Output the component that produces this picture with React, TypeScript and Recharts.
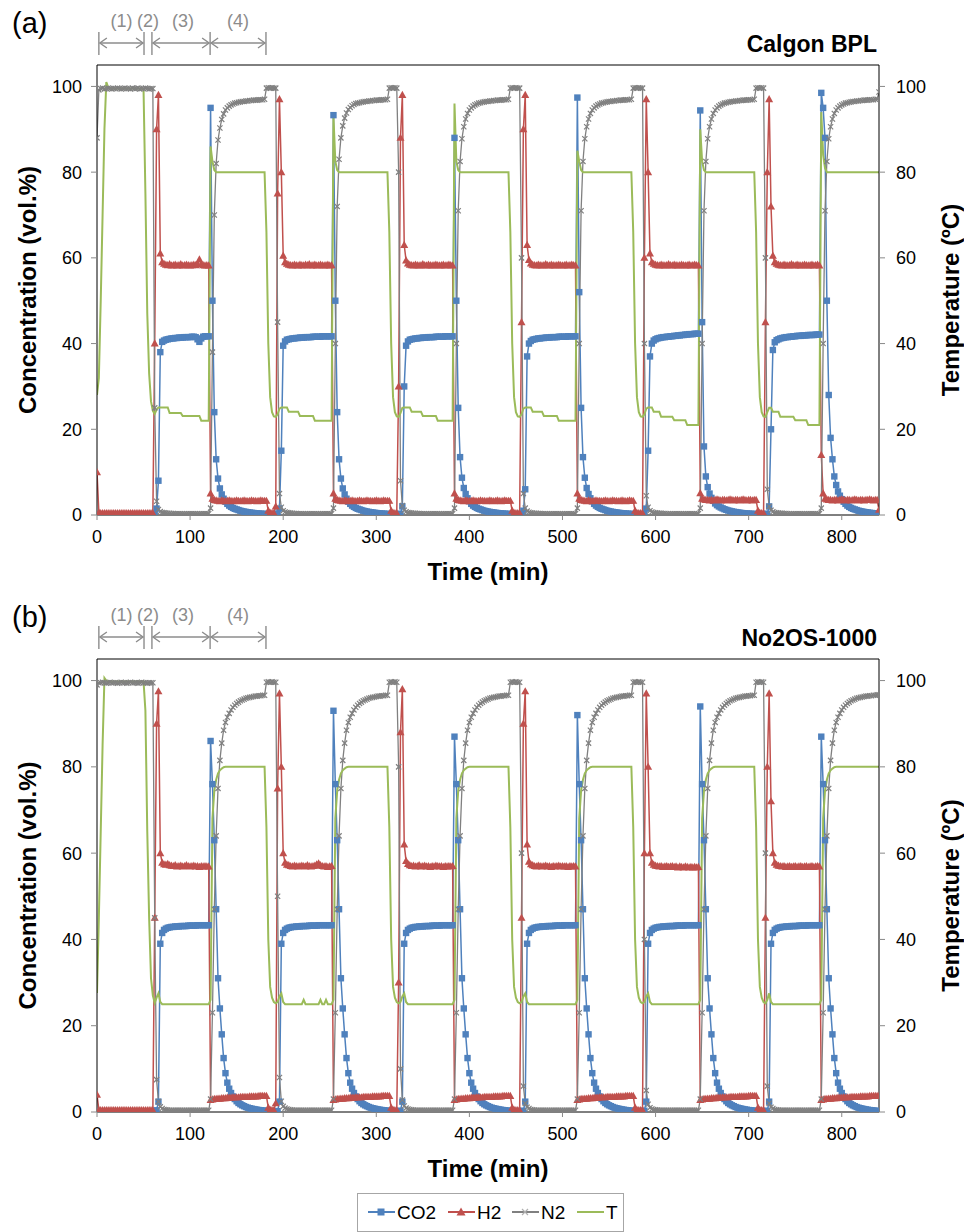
import React from 'react';
import { LineChart, Line, XAxis, YAxis, ReferenceLine } from 'recharts';

const FONT = '"Liberation Sans", Arial, sans-serif';
const BLUE = '#4F81BD';
const RED = '#C0504D';
const GREY = '#808080';
const GREEN = '#9BBB59';

// sampling times (min), one sample every 2 min
const TIME = [
  0, 2, 4, 6, 8, 10, 12, 14, 16, 18, 20, 22, 24, 26, 28, 30, 32, 34, 36, 38,
  40, 42, 44, 46, 48, 50, 52, 54, 56, 58, 60, 62, 64, 66, 68, 70, 72, 74, 76, 78,
  80, 82, 84, 86, 88, 90, 92, 94, 96, 98, 100, 102, 104, 106, 108, 110, 112, 114, 116, 118,
  120, 122, 124, 126, 128, 130, 132, 134, 136, 138, 140, 142, 144, 146, 148, 150, 152, 154, 156, 158,
  160, 162, 164, 166, 168, 170, 172, 174, 176, 178, 180, 182, 184, 186, 188, 190, 192, 194, 196, 198,
  200, 202, 204, 206, 208, 210, 212, 214, 216, 218, 220, 222, 224, 226, 228, 230, 232, 234, 236, 238,
  240, 242, 244, 246, 248, 250, 252, 254, 256, 258, 260, 262, 264, 266, 268, 270, 272, 274, 276, 278,
  280, 282, 284, 286, 288, 290, 292, 294, 296, 298, 300, 302, 304, 306, 308, 310, 312, 314, 316, 318,
  320, 322, 324, 326, 328, 330, 332, 334, 336, 338, 340, 342, 344, 346, 348, 350, 352, 354, 356, 358,
  360, 362, 364, 366, 368, 370, 372, 374, 376, 378, 380, 382, 384, 386, 388, 390, 392, 394, 396, 398,
  400, 402, 404, 406, 408, 410, 412, 414, 416, 418, 420, 422, 424, 426, 428, 430, 432, 434, 436, 438,
  440, 442, 444, 446, 448, 450, 452, 454, 456, 458, 460, 462, 464, 466, 468, 470, 472, 474, 476, 478,
  480, 482, 484, 486, 488, 490, 492, 494, 496, 498, 500, 502, 504, 506, 508, 510, 512, 514, 516, 518,
  520, 522, 524, 526, 528, 530, 532, 534, 536, 538, 540, 542, 544, 546, 548, 550, 552, 554, 556, 558,
  560, 562, 564, 566, 568, 570, 572, 574, 576, 578, 580, 582, 584, 586, 588, 590, 592, 594, 596, 598,
  600, 602, 604, 606, 608, 610, 612, 614, 616, 618, 620, 622, 624, 626, 628, 630, 632, 634, 636, 638,
  640, 642, 644, 646, 648, 650, 652, 654, 656, 658, 660, 662, 664, 666, 668, 670, 672, 674, 676, 678,
  680, 682, 684, 686, 688, 690, 692, 694, 696, 698, 700, 702, 704, 706, 708, 710, 712, 714, 716, 718,
  720, 722, 724, 726, 728, 730, 732, 734, 736, 738, 740, 742, 744, 746, 748, 750, 752, 754, 756, 758,
  760, 762, 764, 766, 768, 770, 772, 774, 776, 778, 780, 782, 784, 786, 788, 790, 792, 794, 796, 798,
  800, 802, 804, 806, 808, 810, 812, 814, 816, 818, 820, 822, 824, 826, 828, 830, 832, 834, 836, 838,
  840,
];

// ---- (a) Calgon BPL ----
const co2A = [
  0.2, 0.1, 0.1, 0.1, 0.1, 0.1, 0.1, 0.1, 0.1, 0.1,
  0.1, 0.1, 0.1, 0.1, 0.1, 0.1, 0.1, 0.1, 0.1, 0.1,
  0.1, 0.1, 0.1, 0.1, 0.1, 0.1, 0.1, 0.1, 0.1, 0.1,
  0.1, 0.2, 1.5, 8, 38, 40.4, 40.7, 40.9, 41.0, 41.1,
  41.2, 41.2, 41.3, 41.3, 41.4, 41.4, 41.4, 41.5, 41.5, 41.5,
  41.5, 41.6, 41.6, 41.5, 41.0, 40.4, 41.2, 41.6, 41.7, 41.7,
  41.7, 95, 50, 24, 13, 8.5, 6.2, 4.8, 3.8, 3.1,
  2.6, 2.2, 1.9, 1.65, 1.45, 1.3, 1.15, 1.0, 0.9, 0.8,
  0.72, 0.65, 0.58, 0.52, 0.47, 0.42, 0.38, 0.34, 0.3, 0.27,
  0.25, 0.22, 0.2, 0.2, 0.2, 0.2, 0.2, 0.3, 1.5, 15,
  39.5, 40.5, 40.9, 41.0, 41.1, 41.2, 41.2, 41.3, 41.3, 41.4,
  41.4, 41.4, 41.5, 41.5, 41.5, 41.5, 41.6, 41.6, 41.6, 41.6,
  41.6, 41.7, 41.7, 41.7, 41.7, 41.7, 41.7, 93.3, 50, 24,
  13, 8.5, 6.2, 4.8, 3.8, 3.1, 2.6, 2.2, 1.9, 1.65,
  1.45, 1.3, 1.15, 1.0, 0.9, 0.8, 0.72, 0.65, 0.58, 0.52,
  0.47, 0.42, 0.38, 0.34, 0.3, 0.27, 0.25, 0.22, 0.2, 0.2,
  0.2, 0.2, 0.2, 0.3, 2, 30, 39.5, 40.5, 40.9, 41.0,
  41.1, 41.2, 41.2, 41.3, 41.3, 41.4, 41.4, 41.4, 41.5, 41.5,
  41.5, 41.5, 41.6, 41.6, 41.6, 41.6, 41.6, 41.7, 41.7, 41.7,
  41.7, 41.7, 88, 50, 25, 13.5, 8.7, 6.3, 4.9, 3.9,
  3.2, 2.6, 2.2, 1.9, 1.65, 1.45, 1.3, 1.15, 1.0, 0.9,
  0.8, 0.72, 0.65, 0.58, 0.52, 0.47, 0.42, 0.38, 0.34, 0.3,
  0.27, 0.25, 0.22, 0.2, 0.2, 0.2, 0.2, 0.2, 0.2, 1.0,
  6, 37, 40, 40.6, 40.9, 41.0, 41.1, 41.2, 41.2, 41.3,
  41.3, 41.4, 41.4, 41.4, 41.5, 41.5, 41.5, 41.5, 41.6, 41.6,
  41.6, 41.6, 41.6, 41.7, 41.7, 41.7, 41.7, 41.7, 97.4, 52,
  25, 13.5, 8.7, 6.3, 4.9, 3.9, 3.2, 2.6, 2.2, 1.9,
  1.65, 1.45, 1.3, 1.15, 1.0, 0.9, 0.8, 0.72, 0.65, 0.58,
  0.52, 0.47, 0.42, 0.38, 0.34, 0.3, 0.27, 0.25, 0.22, 0.2,
  0.2, 0.2, 0.2, 0.2, 0.2, 1.5, 15, 37, 40, 40.7,
  41.0, 41.2, 41.3, 41.4, 41.5, 41.5, 41.6, 41.6, 41.7, 41.7,
  41.8, 41.8, 41.9, 41.9, 42.0, 42.0, 42.1, 42.1, 42.2, 42.2,
  42.2, 42.3, 42.3, 42.3, 94.4, 45, 16, 9, 6.5, 5,
  4.0, 3.3, 2.7, 2.3, 2.0, 1.75, 1.55, 1.35, 1.2, 1.05,
  0.95, 0.85, 0.75, 0.68, 0.6, 0.54, 0.48, 0.43, 0.39, 0.35,
  0.32, 0.29, 0.26, 0.24, 0.22, 0.2, 0.2, 0.2, 0.2, 0.2,
  0.3, 2, 20, 38.5, 40.3, 40.8, 41.0, 41.2, 41.3, 41.4,
  41.5, 41.5, 41.6, 41.6, 41.7, 41.7, 41.8, 41.8, 41.8, 41.9,
  41.9, 41.9, 42.0, 42.0, 42.0, 42.0, 42.1, 42.1, 42.1, 98.5,
  95, 88, 50, 28, 18, 13, 9, 7, 5.5, 4.5,
  3.7, 3.1, 2.6, 2.2, 1.9, 1.65, 1.45, 1.3, 1.15, 1.0,
  0.9, 0.8, 0.72, 0.65, 0.58, 0.52, 0.47, 0.42, 0.38, 0.34,
  0.3,
];

const h2A = [
  10, 0.6, 0.4, 0.4, 0.4, 0.4, 0.4, 0.4, 0.4, 0.4,
  0.4, 0.4, 0.4, 0.4, 0.4, 0.4, 0.4, 0.4, 0.4, 0.4,
  0.4, 0.4, 0.4, 0.4, 0.4, 0.4, 0.4, 0.4, 0.4, 0.4,
  0.4, 40, 90, 98, 61, 59, 58.6, 58.4, 58.3, 58.5,
  58.2, 58.3, 58.4, 58.2, 58.3, 58.5, 58.2, 58.3, 58.4, 58.3,
  58.2, 58.3, 58.4, 58.3, 58.6, 59.6, 58.5, 58.3, 58.2, 58.3,
  58.2, 5.0, 3.8, 3.5, 3.4, 3.3, 3.2, 3.4, 3.3, 3.2,
  3.3, 3.4, 3.3, 3.2, 3.3, 3.4, 3.3, 3.2, 3.3, 3.4,
  3.3, 3.2, 3.3, 3.4, 3.3, 3.3, 3.2, 3.3, 3.4, 3.3,
  3.3, 3.3, 1.0, 0.5, 0.4, 0.4, 2, 75, 97, 80,
  60.5, 59, 58.6, 58.4, 58.3, 58.2, 58.4, 58.3, 58.2, 58.4,
  58.3, 58.2, 58.4, 58.3, 58.5, 58.2, 58.3, 58.4, 58.2, 58.3,
  58.4, 58.3, 58.2, 58.3, 58.4, 58.2, 58.3, 5.0, 3.8, 3.5,
  3.4, 3.3, 3.2, 3.4, 3.3, 3.2, 3.3, 3.4, 3.3, 3.2,
  3.3, 3.4, 3.3, 3.2, 3.3, 3.4, 3.3, 3.3, 3.2, 3.3,
  3.4, 3.3, 3.2, 3.3, 3.4, 3.3, 3.3, 3.3, 1.0, 0.5,
  0.4, 0.4, 30, 88, 98, 63, 59.4, 58.7, 58.4, 58.3,
  58.2, 58.4, 58.3, 58.2, 58.3, 58.5, 58.3, 58.2, 58.4, 58.3,
  58.2, 58.3, 58.4, 58.3, 58.2, 58.3, 58.4, 58.2, 58.3, 58.4,
  58.3, 58.2, 5.0, 3.8, 3.5, 3.4, 3.3, 3.2, 3.4, 3.3,
  3.2, 3.3, 3.4, 3.3, 3.2, 3.3, 3.4, 3.3, 3.3, 3.2,
  3.3, 3.4, 3.3, 3.2, 3.3, 3.4, 3.3, 3.2, 3.3, 3.4,
  3.3, 3.3, 3.3, 1.0, 0.5, 0.4, 0.4, 0.4, 45, 90,
  98, 63, 59.5, 58.7, 58.4, 58.3, 58.2, 58.4, 58.3, 58.2,
  58.3, 58.5, 58.3, 58.2, 58.4, 58.3, 58.2, 58.3, 58.4, 58.3,
  58.2, 58.3, 58.4, 58.2, 58.3, 58.4, 58.3, 58.2, 5.0, 3.8,
  3.5, 3.4, 3.3, 3.2, 3.4, 3.3, 3.2, 3.3, 3.4, 3.3,
  3.3, 3.2, 3.3, 3.4, 3.3, 3.2, 3.3, 3.4, 3.3, 3.3,
  3.2, 3.3, 3.4, 3.3, 3.2, 3.3, 3.4, 3.3, 3.3, 1.0,
  0.5, 0.4, 0.4, 0.4, 60, 97, 80, 61, 59, 58.6,
  58.4, 58.3, 58.2, 58.4, 58.3, 58.2, 58.3, 58.5, 58.3, 58.2,
  58.4, 58.3, 58.2, 58.3, 58.4, 58.3, 58.2, 58.3, 58.4, 58.2,
  58.3, 58.4, 58.3, 58.2, 5.1, 3.8, 3.6, 3.5, 3.5, 3.4,
  3.5, 3.4, 3.5, 3.6, 3.5, 3.4, 3.5, 3.5, 3.4, 3.5,
  3.6, 3.5, 3.4, 3.5, 3.5, 3.4, 3.5, 3.6, 3.5, 3.4,
  3.5, 3.5, 3.4, 3.5, 3.5, 1.0, 0.5, 0.4, 0.4, 45,
  80, 97, 72, 60.5, 59, 58.6, 58.4, 58.3, 58.2, 58.4,
  58.3, 58.2, 58.3, 58.5, 58.3, 58.2, 58.4, 58.3, 58.2, 58.3,
  58.4, 58.3, 58.2, 58.3, 58.4, 58.2, 58.3, 58.4, 58.2, 14,
  5.0, 3.8, 3.6, 3.5, 3.5, 3.4, 3.5, 3.5, 3.4, 3.5,
  3.6, 3.5, 3.4, 3.5, 3.5, 3.4, 3.5, 3.6, 3.5, 3.4,
  3.5, 3.5, 3.4, 3.5, 3.5, 3.6, 3.5, 3.4, 3.5, 3.5,
  1.2,
];

const n2A = [
  88, 99.2, 99.5, 99.6, 99.4, 99.5, 99.6, 99.5, 99.4, 99.5,
  99.5, 99.6, 99.5, 99.4, 99.5, 99.6, 99.5, 99.5, 99.4, 99.6,
  99.5, 99.5, 99.6, 99.4, 99.5, 99.5, 99.6, 99.5, 99.4, 99.5,
  99.5, 25, 3.2, 1.3, 0.8, 0.6, 0.5, 0.45, 0.4, 0.4,
  0.35, 0.35, 0.3, 0.3, 0.3, 0.3, 0.3, 0.3, 0.3, 0.3,
  0.3, 0.3, 0.3, 0.3, 0.3, 0.3, 0.3, 0.3, 0.3, 0.3,
  0.3, 1.6, 38, 70, 82, 87.5, 90.3, 92.3, 93.6, 94.5,
  95.0, 95.4, 95.7, 95.9, 96.1, 96.2, 96.3, 96.4, 96.5, 96.5,
  96.6, 96.6, 96.7, 96.7, 96.8, 96.8, 96.8, 96.9, 96.9, 96.9,
  97.0, 99.6, 99.7, 99.6, 99.7, 99.6, 99.6, 45, 5, 1.8,
  1.0, 0.7, 0.55, 0.5, 0.45, 0.4, 0.35, 0.35, 0.3, 0.3,
  0.3, 0.3, 0.3, 0.3, 0.3, 0.3, 0.3, 0.3, 0.3, 0.3,
  0.3, 0.3, 0.3, 0.3, 0.3, 0.3, 0.3, 1.6, 40, 72,
  83, 88, 90.8, 92.6, 93.8, 94.6, 95.1, 95.5, 95.8, 96.0,
  96.1, 96.2, 96.3, 96.4, 96.5, 96.5, 96.6, 96.6, 96.7, 96.7,
  96.8, 96.8, 96.8, 96.9, 96.9, 96.9, 97.0, 99.6, 99.7, 99.6,
  99.7, 99.6, 80, 8, 2.2, 1.1, 0.75, 0.55, 0.5, 0.45,
  0.4, 0.4, 0.35, 0.35, 0.3, 0.3, 0.3, 0.3, 0.3, 0.3,
  0.3, 0.3, 0.3, 0.3, 0.3, 0.3, 0.3, 0.3, 0.3, 0.3,
  0.3, 0.3, 1.6, 40, 71, 82.5, 87.8, 90.6, 92.4, 93.7,
  94.5, 95.0, 95.4, 95.7, 95.9, 96.1, 96.2, 96.3, 96.4, 96.5,
  96.5, 96.6, 96.6, 96.7, 96.7, 96.8, 96.8, 96.8, 96.9, 96.9,
  96.9, 97.0, 99.6, 99.7, 99.6, 99.7, 99.6, 99.6, 60, 5,
  1.6, 0.9, 0.65, 0.5, 0.45, 0.4, 0.4, 0.35, 0.35, 0.3,
  0.3, 0.3, 0.3, 0.3, 0.3, 0.3, 0.3, 0.3, 0.3, 0.3,
  0.3, 0.3, 0.3, 0.3, 0.3, 0.3, 0.3, 0.3, 1.6, 40,
  71, 82.5, 87.8, 90.6, 92.4, 93.7, 94.5, 95.0, 95.4, 95.7,
  95.9, 96.1, 96.2, 96.3, 96.4, 96.5, 96.5, 96.6, 96.6, 96.7,
  96.7, 96.8, 96.8, 96.8, 96.9, 96.9, 96.9, 97.0, 99.6, 99.7,
  99.6, 99.7, 99.6, 99.6, 40, 4.5, 1.8, 1.0, 0.7, 0.55,
  0.5, 0.45, 0.4, 0.4, 0.35, 0.35, 0.3, 0.3, 0.3, 0.3,
  0.3, 0.3, 0.3, 0.3, 0.3, 0.3, 0.3, 0.3, 0.3, 0.3,
  0.3, 0.3, 0.3, 0.3, 1.6, 40, 71, 82.5, 87.8, 90.6,
  92.4, 93.7, 94.5, 95.0, 95.4, 95.7, 95.9, 96.1, 96.2, 96.3,
  96.4, 96.5, 96.5, 96.6, 96.6, 96.7, 96.7, 96.8, 96.8, 96.8,
  96.9, 96.9, 96.9, 97.0, 99.6, 99.7, 99.6, 99.7, 99.6, 60,
  6, 2, 1.1, 0.75, 0.55, 0.5, 0.45, 0.4, 0.4, 0.35,
  0.35, 0.3, 0.3, 0.3, 0.3, 0.3, 0.3, 0.3, 0.3, 0.3,
  0.3, 0.3, 0.3, 0.3, 0.3, 0.3, 0.3, 0.3, 0.3, 1.6,
  40, 71, 82.5, 87.8, 90.6, 92.4, 93.7, 94.5, 95.0, 95.4,
  95.7, 95.9, 96.1, 96.2, 96.3, 96.4, 96.5, 96.5, 96.6, 96.6,
  96.7, 96.7, 96.8, 96.8, 96.8, 96.9, 96.9, 96.9, 97.0, 97.0,
  98.7,
];

const tempA = [
  28, 32, 50, 70, 90, 101, 99.8, 99.5, 99.5, 99.5,
  99.5, 99.5, 99.5, 99.5, 99.5, 99.5, 99.5, 99.5, 99.5, 99.5,
  99.5, 99.5, 99.5, 99.5, 99.5, 99.2, 75, 47, 33, 26.5,
  24.3, 23.6, 24.6, 25.1, 25.1, 25.1, 25.1, 25.1, 25.1, 23.8,
  23.8, 23.8, 23.8, 23.8, 23.8, 23.8, 23.1, 23.1, 23.1, 23.1,
  23.1, 23.1, 23.1, 23.1, 23.1, 23.1, 22.0, 22.0, 22.0, 22.0,
  22.0, 86, 82.5, 80.5, 80, 80, 80, 80, 80, 80,
  80, 80, 80, 80, 80, 80, 80, 80, 80, 80,
  80, 80, 80, 80, 80, 80, 80, 80, 80, 80,
  80, 66, 40, 27.5, 24, 23, 22.9, 23.5, 24.8, 25.1,
  25.1, 25.1, 25.1, 24.1, 24.1, 24.1, 24.1, 24.1, 24.1, 23.1,
  23.1, 23.1, 23.1, 23.1, 23.1, 23.1, 23.1, 22.0, 22.0, 22.0,
  22.0, 22.0, 22.0, 22.0, 22.0, 22.0, 22.0, 93, 82.5, 80.5,
  80, 80, 80, 80, 80, 80, 80, 80, 80, 80,
  80, 80, 80, 80, 80, 80, 80, 80, 80, 80,
  80, 80, 80, 80, 80, 80, 80, 66, 40, 27.5,
  24, 23, 22.9, 23.8, 25.0, 25.1, 25.1, 25.1, 25.1, 24.1,
  24.1, 24.1, 24.1, 24.1, 24.1, 23.1, 23.1, 23.1, 23.1, 23.1,
  23.1, 23.1, 23.1, 22.0, 22.0, 22.0, 22.0, 22.0, 22.0, 22.0,
  22.0, 22.0, 96, 82.5, 80.5, 80, 80, 80, 80, 80,
  80, 80, 80, 80, 80, 80, 80, 80, 80, 80,
  80, 80, 80, 80, 80, 80, 80, 80, 80, 80,
  80, 80, 66, 40, 27.5, 24, 23, 22.9, 23.5, 24.8,
  25.1, 25.1, 25.1, 25.1, 24.1, 24.1, 24.1, 24.1, 24.1, 24.1,
  23.1, 23.1, 23.1, 23.1, 23.1, 23.1, 23.1, 23.1, 22.0, 22.0,
  22.0, 22.0, 22.0, 22.0, 22.0, 22.0, 22.0, 22.0, 85, 82.5,
  80.5, 80, 80, 80, 80, 80, 80, 80, 80, 80,
  80, 80, 80, 80, 80, 80, 80, 80, 80, 80,
  80, 80, 80, 80, 80, 80, 80, 80, 66, 40,
  27.5, 24, 23, 22.9, 23.5, 24.8, 25.1, 25.1, 25.1, 24.1,
  24.1, 24.1, 24.1, 22.9, 22.9, 22.9, 22.9, 22.9, 22.9, 22.9,
  22.1, 22.1, 22.1, 22.1, 22.1, 22.1, 22.1, 21.0, 21.0, 21.0,
  21.0, 21.0, 21.0, 21.0, 90, 82.5, 80.5, 80, 80, 80,
  80, 80, 80, 80, 80, 80, 80, 80, 80, 80,
  80, 80, 80, 80, 80, 80, 80, 80, 80, 80,
  80, 80, 80, 80, 66, 40, 27.5, 24, 23, 22.9,
  24.0, 25.0, 25.0, 24.1, 24.1, 24.1, 24.1, 22.9, 22.9, 22.9,
  22.9, 22.9, 22.9, 22.9, 22.9, 22.1, 22.1, 22.1, 22.1, 22.1,
  22.1, 22.1, 21.0, 21.0, 21.0, 21.0, 21.0, 21.0, 21.0, 94,
  84, 81, 80, 80, 80, 80, 80, 80, 80, 80,
  80, 80, 80, 80, 80, 80, 80, 80, 80, 80,
  80, 80, 80, 80, 80, 80, 80, 80, 80, 80,
  80,
];

// ---- (b) No2OS-1000 ----
const co2B = [
  0.1, 0.1, 0.1, 0.1, 0.1, 0.1, 0.1, 0.1, 0.1, 0.1,
  0.1, 0.1, 0.1, 0.1, 0.1, 0.1, 0.1, 0.1, 0.1, 0.1,
  0.1, 0.1, 0.1, 0.1, 0.1, 0.1, 0.1, 0.1, 0.1, 0.1,
  0.1, 0.1, 0.4, 2.4, 39, 41.5, 42.2, 42.5, 42.7, 42.8,
  42.9, 42.9, 43.0, 43.0, 43.0, 43.1, 43.1, 43.1, 43.1, 43.2,
  43.2, 43.2, 43.2, 43.2, 43.3, 43.3, 43.3, 43.3, 43.3, 43.3,
  43.3, 86, 76, 63, 47, 31, 24, 18, 12.5, 9,
  6.8, 5.4, 4.4, 3.6, 3.0, 2.5, 2.1, 1.8, 1.55, 1.35,
  1.15, 1.0, 0.88, 0.78, 0.68, 0.6, 0.52, 0.45, 0.4, 0.35,
  0.3, 0.25, 0.2, 0.2, 0.2, 0.2, 0.2, 0.2, 2.4, 39,
  41.5, 42.2, 42.5, 42.7, 42.8, 42.9, 42.9, 43.0, 43.0, 43.0,
  43.1, 43.1, 43.1, 43.1, 43.2, 43.2, 43.2, 43.2, 43.2, 43.3,
  43.3, 43.3, 43.3, 43.3, 43.3, 43.3, 43.3, 93, 76, 63,
  47, 31, 24, 18, 12.5, 9, 6.8, 5.4, 4.4, 3.6,
  3.0, 2.5, 2.1, 1.8, 1.55, 1.35, 1.15, 1.0, 0.88, 0.78,
  0.68, 0.6, 0.52, 0.45, 0.4, 0.35, 0.3, 0.25, 0.2, 0.2,
  0.2, 0.2, 0.2, 0.3, 2.4, 39, 41.5, 42.2, 42.5, 42.7,
  42.8, 42.9, 42.9, 43.0, 43.0, 43.0, 43.1, 43.1, 43.1, 43.1,
  43.2, 43.2, 43.2, 43.2, 43.2, 43.3, 43.3, 43.3, 43.3, 43.3,
  43.3, 43.3, 87, 76, 63, 47, 31, 24, 18, 12.5,
  9, 6.8, 5.4, 4.4, 3.6, 3.0, 2.5, 2.1, 1.8, 1.55,
  1.35, 1.15, 1.0, 0.88, 0.78, 0.68, 0.6, 0.52, 0.45, 0.4,
  0.35, 0.3, 0.25, 0.2, 0.2, 0.2, 0.2, 0.2, 0.2, 0.3,
  2.4, 39, 41.5, 42.2, 42.5, 42.7, 42.8, 42.9, 42.9, 43.0,
  43.0, 43.0, 43.1, 43.1, 43.1, 43.1, 43.2, 43.2, 43.2, 43.2,
  43.2, 43.3, 43.3, 43.3, 43.3, 43.3, 43.3, 43.3, 92, 76,
  63, 47, 31, 24, 18, 12.5, 9, 6.8, 5.4, 4.4,
  3.6, 3.0, 2.5, 2.1, 1.8, 1.55, 1.35, 1.15, 1.0, 0.88,
  0.78, 0.68, 0.6, 0.52, 0.45, 0.4, 0.35, 0.3, 0.25, 0.2,
  0.2, 0.2, 0.2, 0.2, 0.3, 2.4, 39, 41.5, 42.2, 42.5,
  42.7, 42.8, 42.9, 42.9, 43.0, 43.0, 43.0, 43.1, 43.1, 43.1,
  43.1, 43.2, 43.2, 43.2, 43.2, 43.2, 43.3, 43.3, 43.3, 43.3,
  43.3, 43.3, 43.3, 43.3, 94, 76, 63, 47, 31, 24,
  18, 12.5, 9, 6.8, 5.4, 4.4, 3.6, 3.0, 2.5, 2.1,
  1.8, 1.55, 1.35, 1.15, 1.0, 0.88, 0.78, 0.68, 0.6, 0.52,
  0.45, 0.4, 0.35, 0.3, 0.25, 0.2, 0.2, 0.2, 0.2, 0.2,
  0.3, 2.4, 39, 41.5, 42.2, 42.5, 42.7, 42.8, 42.9, 42.9,
  43.0, 43.0, 43.0, 43.1, 43.1, 43.1, 43.1, 43.2, 43.2, 43.2,
  43.2, 43.2, 43.3, 43.3, 43.3, 43.3, 43.3, 43.3, 43.3, 87,
  76, 63, 47, 31, 24, 18, 12.5, 9, 6.8, 5.4,
  4.4, 3.6, 3.0, 2.5, 2.1, 1.8, 1.55, 1.35, 1.15, 1.0,
  0.88, 0.78, 0.68, 0.6, 0.52, 0.45, 0.4, 0.35, 0.3, 0.25,
  0.2,
];

const h2B = [
  4, 0.5, 0.4, 0.4, 0.4, 0.4, 0.4, 0.4, 0.4, 0.4,
  0.4, 0.4, 0.4, 0.4, 0.4, 0.4, 0.4, 0.4, 0.4, 0.4,
  0.4, 0.4, 0.4, 0.4, 0.4, 0.4, 0.4, 0.4, 0.4, 0.4,
  0.4, 45, 90, 97.5, 60, 57.8, 57.4, 57.3, 57.5, 57.2,
  57.1, 57.0, 57.2, 56.9, 57.0, 57.1, 56.9, 57.0, 57.2, 57.0,
  56.9, 57.0, 57.1, 56.9, 57.0, 56.8, 57.0, 56.9, 57.0, 56.9,
  56.9, 2.8, 2.9, 3.0, 3.0, 3.1, 3.1, 3.2, 3.2, 3.2,
  3.3, 3.3, 3.3, 3.4, 3.4, 3.4, 3.4, 3.5, 3.5, 3.5,
  3.5, 3.5, 3.6, 3.6, 3.6, 3.6, 3.6, 3.7, 3.7, 3.7,
  3.7, 3.7, 1.0, 0.5, 0.4, 0.4, 2, 75, 97, 80,
  60, 57.8, 57.3, 57.2, 57.0, 56.9, 57.1, 57.0, 56.9, 57.0,
  57.1, 57.0, 56.9, 57.2, 57.0, 56.9, 57.0, 57.1, 57.4, 57.6,
  57.2, 57.0, 56.9, 57.0, 56.8, 56.9, 57.0, 2.8, 2.9, 3.0,
  3.0, 3.1, 3.1, 3.2, 3.2, 3.2, 3.3, 3.3, 3.3, 3.4,
  3.4, 3.4, 3.4, 3.5, 3.5, 3.5, 3.5, 3.5, 3.6, 3.6,
  3.6, 3.6, 3.6, 3.7, 3.7, 3.7, 3.7, 3.7, 1.0, 0.5,
  0.4, 0.4, 30, 88, 98, 62, 58.2, 57.5, 57.2, 57.0,
  57.1, 56.9, 57.0, 57.2, 56.9, 57.0, 57.1, 56.9, 57.0, 56.8,
  57.0, 56.9, 57.1, 57.0, 56.9, 57.0, 56.8, 57.0, 56.9, 57.0,
  56.9, 57.0, 2.8, 2.9, 3.0, 3.0, 3.1, 3.1, 3.2, 3.2,
  3.2, 3.3, 3.3, 3.3, 3.4, 3.4, 3.4, 3.4, 3.5, 3.5,
  3.5, 3.5, 3.5, 3.6, 3.6, 3.6, 3.6, 3.6, 3.7, 3.7,
  3.7, 3.7, 3.7, 1.0, 0.5, 0.4, 0.4, 0.4, 45, 90,
  97.5, 62, 58, 57.4, 57.2, 57.0, 56.9, 57.1, 57.0, 56.9,
  57.0, 57.1, 56.9, 57.0, 56.8, 57.0, 56.9, 57.0, 57.1, 56.9,
  57.0, 56.9, 57.0, 56.8, 57.0, 56.9, 57.0, 56.9, 2.8, 2.9,
  3.0, 3.0, 3.1, 3.1, 3.2, 3.2, 3.2, 3.3, 3.3, 3.3,
  3.4, 3.4, 3.4, 3.4, 3.5, 3.5, 3.5, 3.5, 3.5, 3.6,
  3.6, 3.6, 3.6, 3.6, 3.7, 3.7, 3.7, 3.7, 3.7, 1.0,
  0.5, 0.4, 0.4, 0.4, 60, 97, 80, 60, 57.8, 57.3,
  57.1, 57.0, 56.9, 57.0, 56.8, 56.9, 57.0, 56.8, 56.9, 57.0,
  56.8, 56.9, 56.7, 56.9, 56.8, 56.7, 56.9, 56.8, 56.7, 56.8,
  56.7, 56.8, 56.7, 56.8, 2.8, 2.9, 3.0, 3.0, 3.1, 3.1,
  3.2, 3.2, 3.2, 3.3, 3.3, 3.3, 3.4, 3.4, 3.4, 3.4,
  3.5, 3.5, 3.5, 3.5, 3.5, 3.6, 3.6, 3.6, 3.6, 3.6,
  3.7, 3.7, 3.7, 3.7, 3.7, 1.0, 0.5, 0.4, 0.4, 45,
  80, 97, 72, 60, 57.8, 57.3, 57.1, 57.0, 56.9, 57.0,
  56.8, 56.9, 57.0, 56.8, 56.9, 57.0, 56.8, 56.9, 57.0, 56.8,
  56.9, 57.0, 56.8, 56.9, 57.0, 56.8, 56.9, 57.0, 56.9, 2.8,
  2.9, 3.0, 3.0, 3.1, 3.1, 3.2, 3.2, 3.2, 3.3, 3.3,
  3.3, 3.4, 3.4, 3.4, 3.4, 3.5, 3.5, 3.5, 3.5, 3.5,
  3.6, 3.6, 3.6, 3.6, 3.6, 3.7, 3.7, 3.7, 3.7, 3.7,
  3.7,
];

const n2B = [
  99.0, 99.5, 99.5, 99.6, 99.5, 99.4, 99.5, 99.6, 99.5, 99.5,
  99.5, 99.4, 99.5, 99.6, 99.5, 99.5, 99.4, 99.5, 99.6, 99.5,
  99.5, 99.5, 99.4, 99.5, 99.6, 99.5, 99.5, 99.4, 99.5, 99.5,
  99.5, 45, 7.5, 2.4, 1.2, 0.8, 0.6, 0.5, 0.45, 0.4,
  0.4, 0.4, 0.4, 0.4, 0.4, 0.4, 0.4, 0.4, 0.4, 0.4,
  0.4, 0.4, 0.4, 0.4, 0.4, 0.4, 0.4, 0.4, 0.4, 0.4,
  0.4, 3, 23, 47, 64, 75, 81.5, 85.5, 88.5, 90.3,
  91.5, 92.4, 93.2, 93.8, 94.3, 94.7, 95.0, 95.3, 95.5, 95.7,
  95.9, 96.0, 96.1, 96.2, 96.3, 96.4, 96.4, 96.5, 96.5, 96.6,
  96.6, 99.6, 99.7, 99.6, 99.7, 99.6, 99.6, 50, 8, 2.5,
  1.3, 0.9, 0.7, 0.6, 0.5, 0.45, 0.4, 0.4, 0.4, 0.4,
  0.4, 0.4, 0.4, 0.4, 0.4, 0.4, 0.4, 0.4, 0.4, 0.4,
  0.4, 0.4, 0.4, 0.4, 0.4, 0.4, 0.4, 3, 23, 47,
  64, 75, 81.5, 85.5, 88.5, 90.3, 91.5, 92.4, 93.2, 93.8,
  94.3, 94.7, 95.0, 95.3, 95.5, 95.7, 95.9, 96.0, 96.1, 96.2,
  96.3, 96.4, 96.4, 96.5, 96.5, 96.6, 96.6, 99.6, 99.7, 99.6,
  99.7, 99.6, 80, 10, 2.8, 1.4, 0.9, 0.7, 0.6, 0.5,
  0.45, 0.4, 0.4, 0.4, 0.4, 0.4, 0.4, 0.4, 0.4, 0.4,
  0.4, 0.4, 0.4, 0.4, 0.4, 0.4, 0.4, 0.4, 0.4, 0.4,
  0.4, 0.4, 3, 23, 47, 64, 75, 81.5, 85.5, 88.5,
  90.3, 91.5, 92.4, 93.2, 93.8, 94.3, 94.7, 95.0, 95.3, 95.5,
  95.7, 95.9, 96.0, 96.1, 96.2, 96.3, 96.4, 96.4, 96.5, 96.5,
  96.6, 96.6, 99.6, 99.7, 99.6, 99.7, 99.6, 99.6, 60, 6,
  2.0, 1.1, 0.8, 0.6, 0.5, 0.45, 0.4, 0.4, 0.4, 0.4,
  0.4, 0.4, 0.4, 0.4, 0.4, 0.4, 0.4, 0.4, 0.4, 0.4,
  0.4, 0.4, 0.4, 0.4, 0.4, 0.4, 0.4, 0.4, 3, 23,
  47, 64, 75, 81.5, 85.5, 88.5, 90.3, 91.5, 92.4, 93.2,
  93.8, 94.3, 94.7, 95.0, 95.3, 95.5, 95.7, 95.9, 96.0, 96.1,
  96.2, 96.3, 96.4, 96.4, 96.5, 96.5, 96.6, 96.6, 99.6, 99.7,
  99.6, 99.7, 99.6, 99.6, 40, 5, 1.8, 1.0, 0.7, 0.55,
  0.5, 0.45, 0.4, 0.4, 0.4, 0.4, 0.4, 0.4, 0.4, 0.4,
  0.4, 0.4, 0.4, 0.4, 0.4, 0.4, 0.4, 0.4, 0.4, 0.4,
  0.4, 0.4, 0.4, 0.4, 3, 23, 47, 64, 75, 81.5,
  85.5, 88.5, 90.3, 91.5, 92.4, 93.2, 93.8, 94.3, 94.7, 95.0,
  95.3, 95.5, 95.7, 95.9, 96.0, 96.1, 96.2, 96.3, 96.4, 96.4,
  96.5, 96.5, 96.6, 96.6, 99.6, 99.7, 99.6, 99.7, 99.6, 60,
  6, 2.0, 1.1, 0.8, 0.6, 0.5, 0.45, 0.4, 0.4, 0.4,
  0.4, 0.4, 0.4, 0.4, 0.4, 0.4, 0.4, 0.4, 0.4, 0.4,
  0.4, 0.4, 0.4, 0.4, 0.4, 0.4, 0.4, 0.4, 0.4, 3,
  23, 47, 64, 75, 81.5, 85.5, 88.5, 90.3, 91.5, 92.4,
  93.2, 93.8, 94.3, 94.7, 95.0, 95.3, 95.5, 95.7, 95.9, 96.0,
  96.1, 96.2, 96.3, 96.4, 96.4, 96.5, 96.5, 96.6, 96.6, 96.7,
  96.7,
];

const tempB = [
  27.6, 45, 65, 85, 100.6, 100, 99.8, 99.8, 99.8, 99.8,
  99.8, 99.8, 99.8, 99.8, 99.8, 99.8, 99.8, 99.8, 99.8, 99.8,
  99.8, 99.8, 99.8, 99.8, 99.8, 99.8, 93, 65, 45, 31,
  27, 25.3, 26.5, 27.5, 25.5, 25.0, 25.0, 25.0, 25.0, 25.0,
  25.0, 25.0, 25.0, 25.0, 25.0, 25.0, 25.0, 25.0, 25.0, 25.0,
  25.0, 25.0, 25.0, 25.0, 25.0, 25.0, 25.0, 25.0, 25.0, 25.0,
  25.0, 26, 68, 74.5, 77, 78.5, 79.2, 79.6, 79.9, 80,
  80, 80, 80, 80, 80, 80, 80, 80, 80, 80,
  80, 80, 80, 80, 80, 80, 80, 80, 80, 80,
  80, 66, 40, 29, 26.5, 25.5, 25.2, 25.5, 26.8, 27.5,
  25.5, 25.0, 25.0, 25.0, 25.0, 25.0, 25.0, 25.0, 25.0, 25.0,
  25.0, 26.0, 25.0, 25.0, 25.0, 25.0, 25.0, 25.0, 25.0, 25.0,
  26.0, 25.0, 25.0, 26.0, 25.0, 25.0, 25.0, 26, 68, 74.5,
  77, 78.5, 79.2, 79.6, 79.9, 80, 80, 80, 80, 80,
  80, 80, 80, 80, 80, 80, 80, 80, 80, 80,
  80, 80, 80, 80, 80, 80, 80, 66, 40, 29,
  26.5, 25.5, 25.2, 25.5, 26.8, 27.5, 25.5, 25.0, 25.0, 25.0,
  25.0, 25.0, 25.0, 25.0, 25.0, 25.0, 25.0, 25.0, 25.0, 25.0,
  25.0, 25.0, 25.0, 25.0, 25.0, 25.0, 25.0, 25.0, 25.0, 25.0,
  25.0, 25.0, 26, 68, 74.5, 77, 78.5, 79.2, 79.6, 79.9,
  80, 80, 80, 80, 80, 80, 80, 80, 80, 80,
  80, 80, 80, 80, 80, 80, 80, 80, 80, 80,
  80, 80, 66, 40, 29, 26.5, 25.5, 25.2, 25.5, 26.8,
  27.5, 25.5, 25.0, 25.0, 25.0, 25.0, 25.0, 25.0, 25.0, 25.0,
  25.0, 25.0, 25.0, 25.0, 25.0, 25.0, 25.0, 25.0, 25.0, 25.0,
  25.0, 25.0, 25.0, 25.0, 25.0, 25.0, 25.0, 25.0, 26, 68,
  74.5, 77, 78.5, 79.2, 79.6, 79.9, 80, 80, 80, 80,
  80, 80, 80, 80, 80, 80, 80, 80, 80, 80,
  80, 80, 80, 80, 80, 80, 80, 80, 66, 40,
  29, 26.5, 25.5, 25.2, 25.5, 26.8, 27.5, 25.5, 25.0, 25.0,
  25.0, 25.0, 25.0, 25.0, 25.0, 25.0, 25.0, 25.0, 25.0, 25.0,
  25.0, 25.0, 25.0, 25.0, 25.0, 25.0, 25.0, 25.0, 25.0, 25.0,
  25.0, 25.0, 25.0, 25.0, 26, 68, 74.5, 77, 78.5, 79.2,
  79.6, 79.9, 80, 80, 80, 80, 80, 80, 80, 80,
  80, 80, 80, 80, 80, 80, 80, 80, 80, 80,
  80, 80, 80, 80, 66, 40, 29, 26.5, 25.5, 25.2,
  26.0, 27.5, 25.5, 25.0, 25.0, 25.0, 25.0, 25.0, 25.0, 25.0,
  25.0, 25.0, 25.0, 25.0, 25.0, 25.0, 25.0, 25.0, 25.0, 25.0,
  25.0, 25.0, 25.0, 25.0, 25.0, 25.0, 25.0, 25.0, 25.0, 26,
  68, 74.5, 77, 78.5, 79.2, 79.6, 79.9, 80, 80, 80,
  80, 80, 80, 80, 80, 80, 80, 80, 80, 80,
  80, 80, 80, 80, 80, 80, 80, 80, 80, 80,
  80,
];

const X_TICKS = [0, 100, 200, 300, 400, 500, 600, 700, 800];
const Y_TICKS = [0, 20, 40, 60, 80, 100];
// phase boundaries (min) drawn above each panel
const PHASE_EDGES = [2, 50.5, 59, 121.5, 181.5];
const PHASE_LABELS = ['(1)', '(2)', '(3)', '(4)'];
const LEGEND_ITEMS = ['CO2', 'H2', 'N2', 'T'];

const buildRows = (co2: number[], h2: number[], n2: number[], temp: number[]) =>
  TIME.map((t, i) => ({ t, co2: co2[i], h2: h2[i], n2: n2[i], temp: temp[i] }));

const rowsA = buildRows(co2A, h2A, n2A, tempA);
const rowsB = buildRows(co2B, h2B, n2B, tempB);

// plot geometry shared by both panels
const LEFT = 97;
const RIGHT = 879;
const TOP = 65;
const X_MAX = 840;
const xPx = (t: number) => LEFT + (t / X_MAX) * (RIGHT - LEFT);

const squareDot = (p: any) => {
  const k = `s${p.index}`;
  if (p.cx == null || p.cy == null) return <g key={k} />;
  return <rect key={k} x={p.cx - 3.2} y={p.cy - 3.2} width={6.4} height={6.4} fill={BLUE} />;
};
const triangleDot = (p: any) => {
  const k = `t${p.index}`;
  if (p.cx == null || p.cy == null) return <g key={k} />;
  const { cx, cy } = p;
  return <path key={k} d={`M${cx},${cy - 4.2}L${cx + 4},${cy + 3}L${cx - 4},${cy + 3}Z`} fill={RED} />;
};
const crossDot = (p: any) => {
  const k = `x${p.index}`;
  if (p.cx == null || p.cy == null) return <g key={k} />;
  const { cx, cy } = p;
  const r = 2.6;
  return (
    <path
      key={k}
      d={`M${cx - r},${cy - r}L${cx + r},${cy + r}M${cx + r},${cy - r}L${cx - r},${cy + r}`}
      stroke={GREY}
      strokeWidth={1.2}
      fill="none"
    />
  );
};

const tickStyle = { fontSize: 18, fill: '#000', fontFamily: FONT };

function PhaseArrows() {
  const y = 43;
  const xs = PHASE_EDGES.map(xPx);
  const head = (x: number, dir: number, k: string) => (
    <path key={k} d={`M${x + dir * 7},${y - 5}L${x},${y}L${x + dir * 7},${y + 5}`} fill="none" stroke="#8c8c8c" strokeWidth={1.4} />
  );
  const spans = [[0, 1], [2, 3], [3, 4]];
  return (
    <g>
      {xs.map((x, i) => (
        <line key={`b${i}`} x1={x} x2={x} y1={32} y2={55} stroke="#8c8c8c" strokeWidth={1.4} />
      ))}
      {spans.map(([a, b], i) => (
        <g key={`sp${i}`}>
          <line x1={xs[a] + 1} x2={xs[b] - 1} y1={y} y2={y} stroke="#8c8c8c" strokeWidth={1.4} />
          {head(xs[a] + 1, 1, 'l')}
          {head(xs[b] - 1, -1, 'r')}
        </g>
      ))}
      {PHASE_LABELS.map((s, i) => (
        <text
          key={s}
          x={(xs[i] + xs[i + 1]) / 2 + (i === 2 ? 2 : 0)}
          y={27}
          textAnchor="middle"
          fontSize={18}
          fill="#8c8c8c"
          fontFamily={FONT}
        >
          {s}
        </text>
      ))}
    </g>
  );
}

function Panel({ top, rows, plotHeight, tag, title }: any) {
  const height = TOP + plotHeight + 45;
  const midY = TOP + plotHeight / 2;
  return (
    <div style={{ position: 'absolute', left: 0, top, width: 964, height: height + 40 }}>
      <LineChart width={964} height={height} data={rows} margin={{ top: TOP, right: 0, bottom: 0, left: 0 }}>
        <XAxis
          dataKey="t"
          type="number"
          domain={[0, X_MAX]}
          ticks={X_TICKS}
          allowDataOverflow
          height={45}
          tickSize={5}
          tickMargin={10}
          tick={tickStyle}
          axisLine={{ stroke: '#000' }}
          tickLine={{ stroke: '#888' }}
        />
        <YAxis
          yAxisId="c"
          domain={[0, 105]}
          ticks={Y_TICKS}
          allowDataOverflow
          width={LEFT}
          tickSize={6}
          tickMargin={9}
          tick={tickStyle}
          axisLine={{ stroke: '#000' }}
          tickLine={{ stroke: '#888' }}
        />
        <YAxis
          yAxisId="T"
          orientation="right"
          domain={[0, 105]}
          ticks={Y_TICKS}
          allowDataOverflow
          width={964 - RIGHT}
          tickSize={6}
          tickMargin={11}
          tick={tickStyle}
          axisLine={{ stroke: '#000' }}
          tickLine={{ stroke: '#888' }}
        />
        <ReferenceLine yAxisId="c" y={105} stroke="#000" strokeWidth={1} />
        <Line yAxisId="c" type="linear" dataKey="co2" stroke={BLUE} strokeWidth={1.5} dot={squareDot} activeDot={false} isAnimationActive={false} />
        <Line yAxisId="c" type="linear" dataKey="h2" stroke={RED} strokeWidth={1.5} dot={triangleDot} activeDot={false} isAnimationActive={false} />
        <Line yAxisId="c" type="linear" dataKey="n2" stroke={GREY} strokeWidth={1.3} dot={crossDot} activeDot={false} isAnimationActive={false} />
        <Line yAxisId="T" type="linear" dataKey="temp" stroke={GREEN} strokeWidth={2} dot={false} activeDot={false} isAnimationActive={false} />
      </LineChart>
      <svg
        width={964}
        height={height + 40}
        style={{ position: 'absolute', left: 0, top: 0, pointerEvents: 'none', overflow: 'visible' }}
      >
        <text x={12} y={33} fontSize={29} fontFamily={FONT} fill="#000">{tag}</text>
        <PhaseArrows />
        <text x={877} y={52} textAnchor="end" fontSize={23} fontWeight="bold" fontFamily={FONT} fill="#000">{title}</text>
        <text
          x={27}
          y={midY}
          transform={`rotate(-90, 27, ${midY})`}
          textAnchor="middle"
          dominantBaseline="central"
          fontSize={24}
          fontWeight="bold"
          fontFamily={FONT}
        >
          Concentration (vol.%)
        </text>
        <text
          x={950}
          y={midY + 10}
          transform={`rotate(-90, 950, ${midY + 10})`}
          textAnchor="middle"
          dominantBaseline="central"
          fontSize={24}
          fontWeight="bold"
          fontFamily={FONT}
        >
          Temperature (ºC)
        </text>
        <text
          x={(LEFT + RIGHT) / 2}
          y={TOP + plotHeight + 56}
          textAnchor="middle"
          dominantBaseline="central"
          fontSize={24}
          fontWeight="bold"
          fontFamily={FONT}
        >
          Time (min)
        </text>
      </svg>
    </div>
  );
}

function LegendBox() {
  const y = 20;
  const items = [
    { x: 368, color: BLUE, marker: 'square' },
    { x: 448, color: RED, marker: 'triangle' },
    { x: 512, color: GREY, marker: 'cross' },
    { x: 577, color: GREEN, marker: 'none' },
  ];
  return (
    <svg width={964} height={40} style={{ position: 'absolute', left: 0, top: 1192 }}>
      <rect x={357.5} y={1.5} width={266} height={38} fill="#fff" stroke="#a6a6a6" strokeWidth={1} />
      {items.map((it, i) => {
        const cx = it.x + 13;
        return (
          <g key={LEGEND_ITEMS[i]}>
            <line x1={it.x} x2={it.x + 27} y1={y} y2={y} stroke={it.color} strokeWidth={2} />
            {it.marker === 'square' && <rect x={cx - 3.5} y={y - 3.5} width={7} height={7} fill={it.color} />}
            {it.marker === 'triangle' && <path d={`M${cx},${y - 4.5}L${cx + 4.5},${y + 3.5}L${cx - 4.5},${y + 3.5}Z`} fill={it.color} />}
            {it.marker === 'cross' && (
              <path d={`M${cx - 3},${y - 3}L${cx + 3},${y + 3}M${cx + 3},${y - 3}L${cx - 3},${y + 3}`} stroke="#b0b0b0" strokeWidth={1.2} />
            )}
            <text x={it.x + 29} y={y} dominantBaseline="central" fontSize={19} fontFamily={FONT} fill="#000">
              {LEGEND_ITEMS[i]}
            </text>
          </g>
        );
      })}
    </svg>
  );
}

export default function App() {
  return (
    <div style={{ position: 'absolute', left: 0, top: 0, width: 964, height: 1232, background: '#fff', fontFamily: FONT }}>
      <Panel top={0} rows={rowsA} plotHeight={450} tag="(a)" title="Calgon BPL" />
      <Panel top={594} rows={rowsB} plotHeight={453} tag="(b)" title="No2OS-1000" />
      <LegendBox />
    </div>
  );
}
